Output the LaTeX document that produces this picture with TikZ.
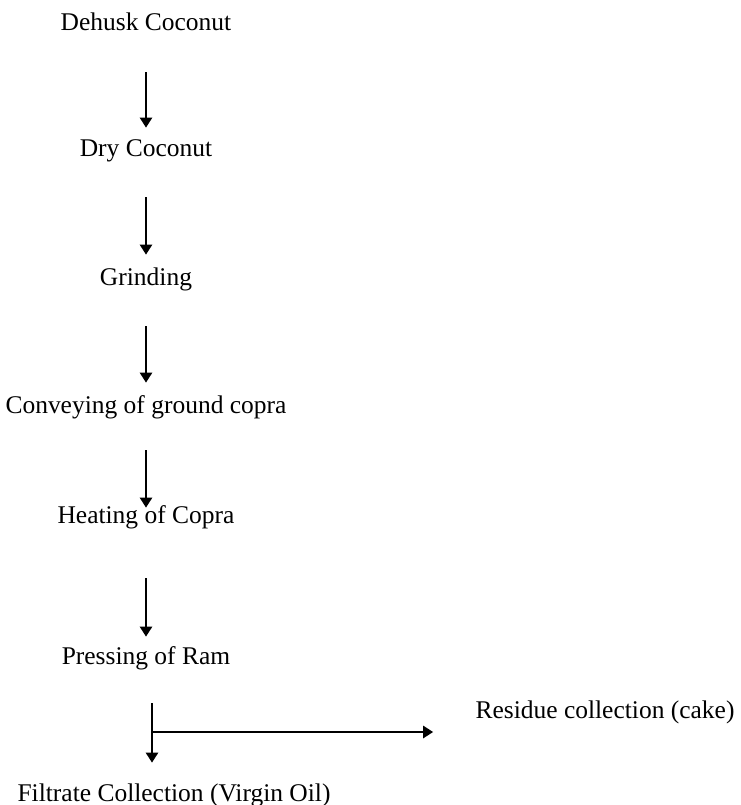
\documentclass[tikz,border=0pt]{standalone}
\usepackage{fontspec}
\setmainfont{Liberation Serif}
\usetikzlibrary{positioning,arrows.meta}

\begin{document}
\begin{tikzpicture}[auto, node distance=2.55cm,
    stage/.style={inner sep=0pt, text height=0.34cm, text depth=0.1cm,
        font=\fontsize{14.5}{17}\selectfont},
    flow/.style={-{Triangle[length=0.2cm,width=0.24cm]}, line width=1.4pt}]
    \useasboundingbox (0,0) rectangle (14.82,-16.1);

    % Define stages
    \node[stage] (dehusk) at (2.92,-0.48) {Dehusk Coconut};
    \node[stage, node distance=2.52cm, below of=dehusk] (dry) {Dry Coconut};
    \node[stage, node distance=2.58cm, below of=dry] (grind) {Grinding};
    \node[stage, node distance=2.56cm, below of=grind] (convey) {Conveying of ground copra};
    \node[stage, node distance=2.2cm, below of=convey] (heat) {Heating of Copra};
    \node[stage, node distance=2.82cm, below of=heat] (press) {Pressing of Ram};

    % Split after pressing
    \coordinate[node distance=1.48cm, below of=press, xshift=0.12cm] (split);
    \node[stage, node distance=1.26cm, below of=split, xshift=0.44cm] (filtrate) {Filtrate Collection (Virgin Oil)};
    \node[stage, node distance=9.06cm, right of=split, yshift=0.4cm] (residue) {Residue collection (cake)};

    % Transitions between stages
    \draw (dehusk) edge[flow, shorten <=0.74cm, shorten >=0.22cm] (dry);
    \draw (dry) edge[flow, shorten <=0.72cm, shorten >=0.26cm] (grind);
    \draw (grind) edge[flow, shorten <=0.72cm, shorten >=0.26cm] (convey);
    \draw (convey) edge[flow, shorten <=0.64cm, shorten >=-0.04cm] (heat);
    \draw (heat) edge[flow, shorten <=1.0cm, shorten >=0.2cm] (press);

    % Outputs
    \draw[flow, shorten <=0.68cm, shorten >=0.42cm] (split |- press.south) -- (split |- filtrate.north);
    \draw[flow, shorten >=0.84cm] (split) -- (split -| residue.west);

\end{tikzpicture}
\end{document}
